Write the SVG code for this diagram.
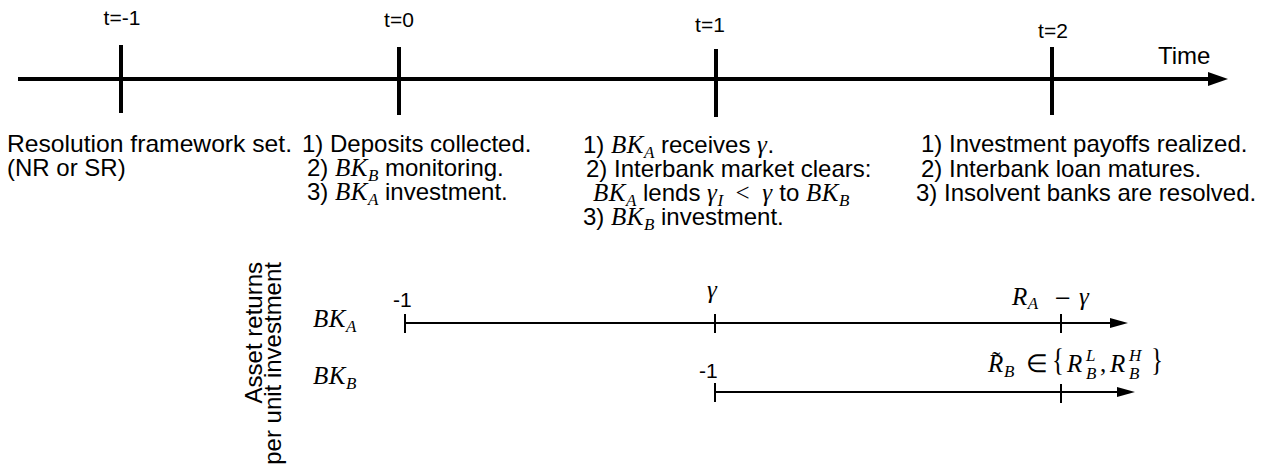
<svg xmlns="http://www.w3.org/2000/svg" width="1275" height="466" viewBox="0 0 1275 466">
  <style>
    .t { font-family: "Liberation Sans", Arial, sans-serif; font-size: 24px; fill: #000; }
    .lab { font-family: "Liberation Sans", Arial, sans-serif; font-size: 21px; fill: #000; }
    .m { font-family: "Liberation Serif", "Times New Roman", serif; font-style: italic; font-size: 25px; letter-spacing: 0.5px; }
    .up { font-family: "Liberation Serif", "Times New Roman", serif; font-style: normal; font-size: 25px; }
    .op { font-family: "DejaVu Serif", serif; font-style: normal; font-size: 21px; }
    .s { font-size: 17px; letter-spacing: 0; }
    .axis { stroke: #000; stroke-width: 4; fill: none; }
    .tick { stroke: #000; stroke-width: 4; }
    .ret { stroke: #000; stroke-width: 2; fill: none; }
    .rtick { stroke: #000; stroke-width: 2; }
  </style>

  <!-- connectors: main time axis and the two asset-return lines -->
  <g id="connectors">
    <line class="axis" x1="18" y1="79" x2="1212" y2="79"/>
    <polygon points="1228,79 1208,72 1208,86" fill="#000"/>
    <line class="ret" x1="405" y1="323" x2="1114" y2="323"/>
    <polygon points="1128,323 1110,318 1110,328" fill="#000"/>
    <line class="ret" x1="715" y1="392" x2="1120" y2="392"/>
    <polygon points="1135,392 1117,387 1117,397" fill="#000"/>
  </g>

  <g id="time-label">
    <text class="t" x="1158" y="64">Time</text>
  </g>

  <!-- t = -1 -->
  <g id="t-minus1">
    <line class="tick" x1="121" y1="45" x2="121" y2="113"/>
    <text class="lab" x="122" y="25" text-anchor="middle">t=-1</text>
    <text class="t" x="7" y="152" textLength="285" lengthAdjust="spacingAndGlyphs">Resolution framework set.</text>
    <text class="t" x="7" y="176">(NR or SR)</text>
  </g>

  <!-- t = 0 -->
  <g id="t0">
    <line class="tick" x1="399" y1="47" x2="399" y2="115"/>
    <text class="lab" x="399" y="27" text-anchor="middle">t=0</text>
    <text class="t" x="302" y="152">1) Deposits collected.</text>
    <text class="t" x="307" y="176">2) <tspan class="m">BK</tspan><tspan class="m s" dy="5">B</tspan><tspan dy="-5"> monitoring.</tspan></text>
    <text class="t" x="307" y="200">3) <tspan class="m">BK</tspan><tspan class="m s" dy="5">A</tspan><tspan dy="-5"> investment.</tspan></text>
  </g>

  <!-- t = 1 -->
  <g id="t1">
    <line class="tick" x1="716" y1="49" x2="716" y2="117"/>
    <text class="lab" x="710" y="32" text-anchor="middle">t=1</text>
    <text class="t" x="583" y="153">1) <tspan class="m">BK</tspan><tspan class="m s" dy="5">A</tspan><tspan dy="-5"> receives </tspan><tspan class="m">γ</tspan>.</text>
    <text class="t" x="586" y="177">2) Interbank market clears:</text>
    <text class="t" x="593" y="201"><tspan class="m">BK</tspan><tspan class="m s" dy="5">A</tspan><tspan dy="-5"> lends </tspan><tspan class="m">γ</tspan><tspan class="m s" dy="5">I</tspan><tspan class="up" dy="-5">&#8194;&lt;&#8194;</tspan><tspan class="m">γ</tspan> to <tspan class="m">BK</tspan><tspan class="m s" dy="5">B</tspan></text>
    <text class="t" x="583" y="225">3) <tspan class="m">BK</tspan><tspan class="m s" dy="5">B</tspan><tspan dy="-5"> investment.</tspan></text>
  </g>

  <!-- t = 2 -->
  <g id="t2">
    <line class="tick" x1="1052" y1="47" x2="1052" y2="115"/>
    <text class="lab" x="1053" y="38" text-anchor="middle">t=2</text>
    <text class="t" x="921" y="152">1) Investment payoffs realized.</text>
    <text class="t" x="921" y="177">2) Interbank loan matures.</text>
    <text class="t" x="916" y="201">3) Insolvent banks are resolved.</text>
  </g>

  <!-- asset returns panel -->
  <g id="returns-axis-label">
    <text class="t" text-anchor="end" transform="translate(262,262) rotate(-90)">Asset returns</text>
    <text class="t" text-anchor="end" transform="translate(281,262) rotate(-90)">per unit investment</text>
  </g>

  <g id="bank-a-returns">
    <text class="m" x="313" y="327" font-size="26" letter-spacing="1">BK<tspan class="s" dy="5">A</tspan></text>
    <line class="rtick" x1="405" y1="314" x2="405" y2="333"/>
    <line class="rtick" x1="715" y1="314" x2="715" y2="333"/>
    <line class="rtick" x1="1061" y1="314" x2="1061" y2="333"/>
    <text class="lab" x="393" y="307">-1</text>
    <text class="m" x="707" y="298">γ</text>
    <text class="m" x="1012" y="305" font-size="24">R<tspan class="s" dy="4">A</tspan></text>
    <text class="op" x="1054" y="305">−</text>
    <text class="m" x="1079" y="305" font-size="24">γ</text>
  </g>

  <g id="bank-b-returns">
    <text class="m" x="313" y="384" font-size="26" letter-spacing="1">BK<tspan class="s" dy="5">B</tspan></text>
    <line class="rtick" x1="715" y1="383" x2="715" y2="402"/>
    <line class="rtick" x1="1061" y1="384" x2="1061" y2="403"/>
    <text class="lab" x="699" y="378">-1</text>
    <text class="m" x="988" y="372" font-size="24">R</text>
    <text class="up" x="992" y="369" font-size="20">˜</text>
    <text class="m s" x="1004" y="377">B</text>
    <text class="up" x="1026" y="372" font-size="24">∈</text>
    <text class="up" font-size="34" transform="translate(1052,371) scale(1,1.3)">{</text>
    <text class="m" x="1067" y="372" font-size="24">R</text>
    <text class="m s" x="1086" y="361">L</text>
    <text class="m s" x="1086" y="379">B</text>
    <text class="up" x="1100" y="372" font-size="24">,</text>
    <text class="m" x="1110" y="372" font-size="24">R</text>
    <text class="m s" x="1129" y="361">H</text>
    <text class="m s" x="1129" y="379">B</text>
    <text class="up" font-size="34" transform="translate(1151,371) scale(1,1.3)">}</text>
  </g>
</svg>
